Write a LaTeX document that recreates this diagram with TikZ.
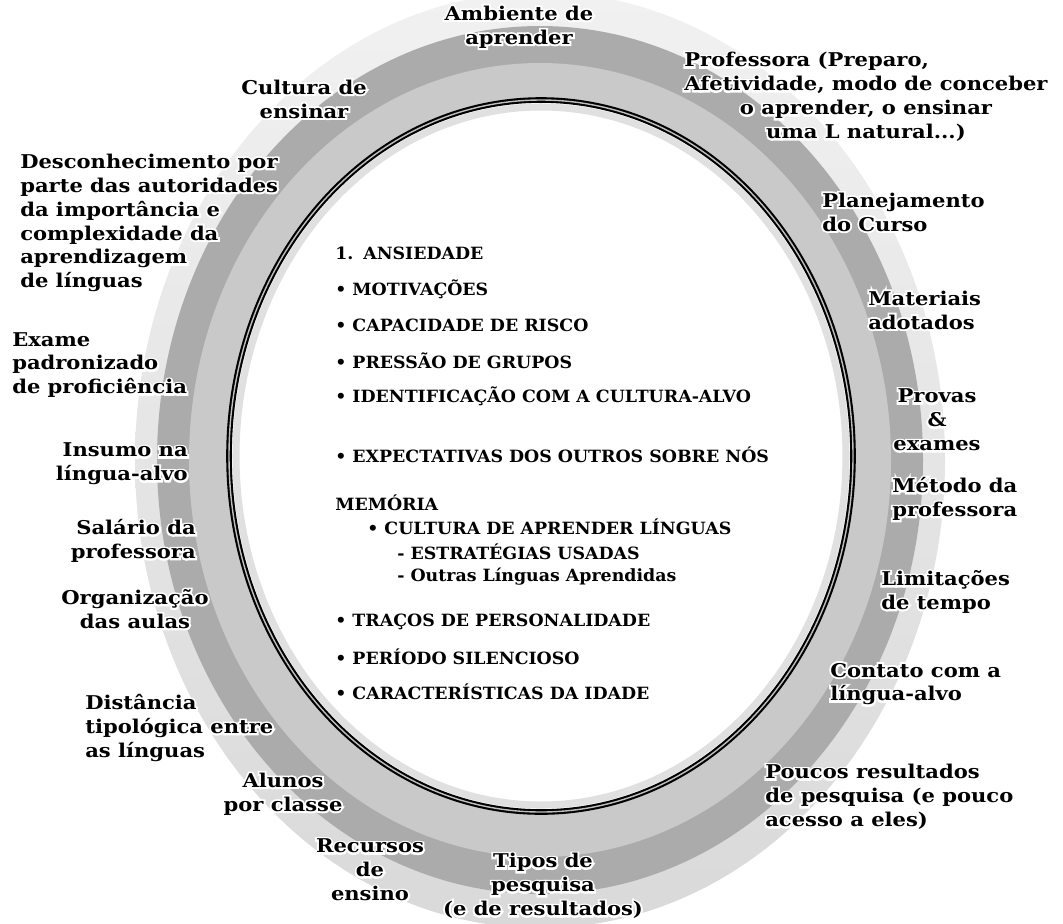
\documentclass[tikz,border=0pt]{standalone}
\usepackage{fontspec}
\setmainfont{DejaVu Serif}
\newfontfamily\ringfont{DejaVu Serif}[FakeStretch=1.11]
\newfontfamily\halofont{DejaVu Serif}[FakeStretch=1.11, BoldFeatures={FakeBold=20}]
\newfontfamily\factorfont{DejaVu Serif}[FakeStretch=1.03]
\usetikzlibrary{positioning}
\definecolor{faintTop}{HTML}{F1F1F1}
\definecolor{faintBottom}{HTML}{D9D9D9}
\definecolor{darkColor}{HTML}{ABABAB}
\definecolor{lightColor}{HTML}{C9C9C9}
\definecolor{shadeColor}{HTML}{E0E0E0}
\tikzset{
	ring lab/.style={font=\ringfont\bfseries\fontsize{13.5}{17}\selectfont, inner sep=0pt},
	halo lab/.style={ring lab, font=\halofont\bfseries\fontsize{13.5}{17}\selectfont, text=white},
	factor/.style={font=\factorfont\bfseries\fontsize{12}{14}\selectfont, inner sep=0pt, anchor=west}
}
% white outline under every label on the rings
\newcommand{\ringlab}[3]{%
	\node[halo lab,#2] {#3};
	\node[ring lab,#2] (#1) {#3};}

\begin{document}
\begin{tikzpicture}[x=0.025cm, y=-0.025cm]
	\useasboundingbox (0,0) rectangle (1063,923);
	% rings
	\shade[top color=faintTop, bottom color=faintBottom] (540,460) ellipse [x radius=405, y radius=468];
	\fill[darkColor] (540,460) ellipse [x radius=383, y radius=434];
	\fill[lightColor] (540,460) ellipse [x radius=351, y radius=397];
	\fill[white] (541,456) ellipse [x radius=312, y radius=356];
	\draw[shadeColor, line width=5pt] (541,456) ellipse [x radius=305, y radius=349];
	\draw[black, line width=4pt] (541,456) ellipse [x radius=312, y radius=356];
	\draw[gray!50, line width=1pt] (541,456) ellipse [x radius=312, y radius=356];
	
	% inside
	\node[factor] (anx) at (335,253) {1.\enspace\kern1pt ANSIEDADE};
	\node[factor] (mot) at (335,289) {• MOTIVAÇÕES};
	\node[factor] (ris) at (335,325) {• CAPACIDADE DE RISCO};
	\node[factor] (gru) at (335,361) {• PRESSÃO DE GRUPOS};
	\node[factor] (ide) at (335,396) {• IDENTIFICAÇÃO COM A CULTURA-ALVO};
	\node[factor] (exp) at (335,455) {• EXPECTATIVAS DOS OUTROS SOBRE NÓS};
	\node[factor] (mem) at (335,503) {MEMÓRIA};
	\node[factor] (cap) at (367,527) {• CULTURA DE APRENDER LÍNGUAS};
	\node[factor] (est) at (397,552) {- ESTRATÉGIAS USADAS};
	\node[factor] (out) at (397,577) {- Outras Línguas Aprendidas};
	\node[factor] (tra) at (335,622) {• TRAÇOS DE PERSONALIDADE};
	\node[factor] (sil) at (335,657) {• PERÍODO SILENCIOSO};
	\node[factor] (ida) at (335,692) {• CARACTERÍSTICAS DA IDADE};
	
	% around
	\ringlab{amb}{align=center, at={(519,27)}}{Ambiente de\\aprender}
	\ringlab{cul}{align=center, at={(304,99)}}{Cultura de\\ensinar}
	\ringlab{prof}{at={(866,98)}}{\begin{tabular}{@{}c@{}}
			\multicolumn{1}{@{}l@{}}{Professora (Preparo,} \\ Afetividade, modo de conceber \\
			o aprender, o ensinar \\ uma L natural...)
		\end{tabular}}
	\ringlab{desc}{align=left, anchor=west, at={(20,223)}}{Desconhecimento por\\parte das autoridades\\da importância e\\complexidade da\\aprendizagem\\de línguas}
	\ringlab{plan}{align=left, anchor=west, at={(822,212)}}{Planejamento\\do Curso}
	\ringlab{mat}{align=left, anchor=west, at={(868,310)}}{Materiais\\adotados}
	\ringlab{exa}{align=left, anchor=west, at={(12,365)}}{Exame\\padronizado\\de proficiência}
	\ringlab{prov}{align=center, at={(937,420)}}{Provas\\\&\\exames}
	\ringlab{ins}{align=right, anchor=east, at={(188,464)}}{Insumo na\\língua-alvo}
	\ringlab{met}{align=left, anchor=west, at={(892,499)}}{Método da\\professora}
	\ringlab{sal}{align=right, anchor=east, at={(196,541)}}{Salário da\\professora}
	\ringlab{lim}{align=left, anchor=west, at={(881,592)}}{Limitações\\de tempo}
	\ringlab{org}{align=center, at={(135,609)}}{Organização\\das aulas}
	\ringlab{cont}{align=left, anchor=west, at={(830,684)}}{Contato com a\\língua-alvo}
	\ringlab{dist}{align=left, anchor=west, at={(85,728)}}{Distância\\tipológica entre\\as línguas}
	\ringlab{alu}{align=center, at={(283,794)}}{Alunos\\por classe}
	\ringlab{pouc}{align=left, anchor=west, at={(765,797)}}{Poucos resultados\\de pesquisa (e pouco\\acesso a eles)}
	\ringlab{rec}{align=center, at={(370,870)}}{Recursos\\de\\ensino}
	\ringlab{tip}{align=center, at={(543,886)}}{Tipos de\\pesquisa\\(e de resultados)}
\end{tikzpicture}
\end{document}
